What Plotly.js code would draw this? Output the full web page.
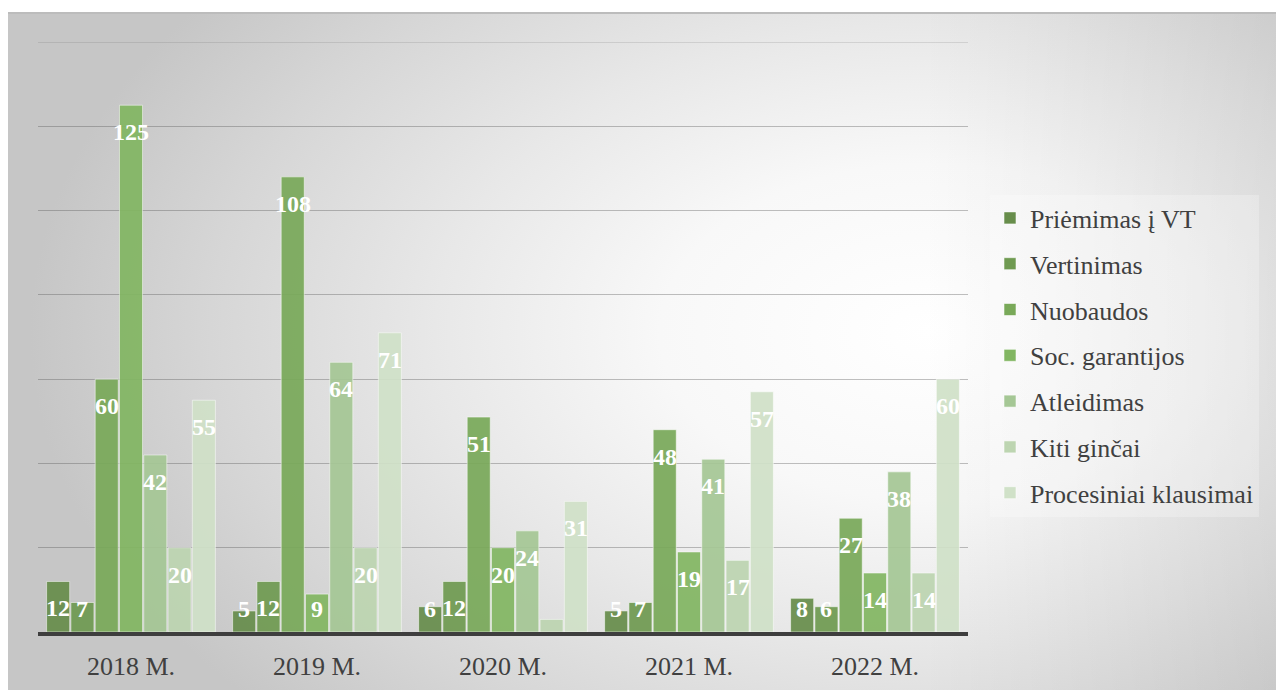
<!DOCTYPE html>
<html>
<head>
<meta charset="utf-8">
<script src="https://cdn.plot.ly/plotly-3.0.1.min.js"></script>
<style>
  html, body { margin: 0; padding: 0; background: #ffffff; width: 1276px; height: 690px; overflow: hidden; }
  #bg {
    position: absolute; left: 8px; top: 12px; width: 1268px; height: 676px;
    border-top: 2px solid #bcbcbc;
    background:
      linear-gradient(to left, rgba(0,0,0,0.08) 0%, rgba(0,0,0,0) 28%),
      radial-gradient(ellipse 900px 560px at 922px 318px, #ffffff 0%, #f8f8f8 30%, #e8e8e8 55%, #d6d6d6 80%, #c6c6c6 100%);
  }
  #chart { position: absolute; left: 0; top: 0; width: 1276px; height: 690px; }
</style>
</head>
<body>
<div id="bg"></div>
<div id="chart"></div>
<script>
// ---- data ----
const categories = ['2018 M.', '2019 M.', '2020 M.', '2021 M.', '2022 M.'];
const seriesNames = ['Priėmimas į VT', 'Vertinimas', 'Nuobaudos', 'Soc. garantijos', 'Atleidimas', 'Kiti ginčai', 'Procesiniai klausimai'];
const priemimas     = [12, 5, 6, 5, 8];
const vertinimas    = [7, 12, 12, 7, 6];
const nuobaudos     = [60, 108, 51, 48, 27];
const socGarantijos = [125, 9, 20, 19, 14];
const atleidimas    = [42, 64, 24, 41, 38];
const kitiGincai    = [20, 20, 3, 17, 14];
const procesiniai   = [55, 71, 31, 57, 60];

const seriesValues = [priemimas, vertinimas, nuobaudos, socGarantijos, atleidimas, kitiGincai, procesiniai];
const colors = ['#678d4b', '#6f9a51', '#79a959', '#82b662', '#a5c795', '#bdd5b1', '#d0e1c8'];

// ---- layout geometry ----
const W = 1276, H = 690;
const mL = 38, mR = 308, mT = 42, mB = 58;
const plotW = W - mL - mR, plotH = H - mT - mB;
const yMax = 140;
const bargap = 0.086;
const ppu = plotH / yMax;
const catPx = plotW / categories.length;
const slot = catPx * (1 - bargap) / seriesNames.length;
const serif = "Liberation Serif, Times New Roman, serif";

const traces = seriesNames.map((name, i) => ({
  type: 'bar',
  name: name,
  x: categories,
  y: seriesValues[i],
  legendgroup: 'g' + i,
  marker: { color: colors[i], opacity: 0.92, line: { color: 'rgba(255,255,255,0.55)', width: 1 } },
  hoverinfo: 'skip'
}));

const annotations = [];
seriesValues.forEach((vals, i) => {
  vals.forEach((v, j) => {
    if (v < 4) return;
    annotations.push({
      x: categories[j], y: v, xref: 'x', yref: 'y',
      xshift: (i - 3) * slot,
      yshift: -Math.min(27, v * ppu - 23),
      text: '<b>' + String(v) + '</b>', showarrow: false,
      xanchor: 'center', yanchor: 'middle',
      font: { family: serif, size: 24, color: '#ffffff' }
    });
  });
});

const layout = {
  width: W, height: H,
  margin: { l: mL, r: mR, t: mT, b: mB, pad: 0 },
  paper_bgcolor: 'rgba(0,0,0,0)',
  plot_bgcolor: 'rgba(0,0,0,0)',
  barmode: 'group',
  bargap: bargap,
  bargroupgap: 0.05,
  font: { family: serif, color: '#404040' },
  xaxis: {
    type: 'category',
    showgrid: false,
    showline: true, linecolor: '#3e3e3e', linewidth: 4,
    ticks: '', ticklabelstandoff: 8,
    tickfont: { family: serif, size: 26, color: '#404040' },
    fixedrange: true
  },
  yaxis: {
    range: [0, yMax], dtick: 20,
    showgrid: true, gridcolor: 'rgba(90,90,90,0.38)', gridwidth: 1,
    zeroline: false, showticklabels: false, ticks: '',
    fixedrange: true
  },
  shapes: [{
    type: 'line', xref: 'paper', yref: 'y', x0: 0, x1: 1, y0: yMax, y1: yMax,
    line: { color: 'rgba(90,90,90,0.16)', width: 2 }, layer: 'below'
  }],
  legend: {
    x: (990 - mL) / plotW, xanchor: 'left',
    y: (H - mB - 355.5) / plotH, yanchor: 'middle',
    bgcolor: 'rgba(255,255,255,0.25)',
    font: { family: serif, size: 26, color: '#404040' },
    tracegroupgap: 9,
    traceorder: 'grouped'
  },
  annotations: annotations,
  showlegend: true
};

Plotly.newPlot('chart', traces, layout, { displayModeBar: false, staticPlot: true });
</script>
</body>
</html>
